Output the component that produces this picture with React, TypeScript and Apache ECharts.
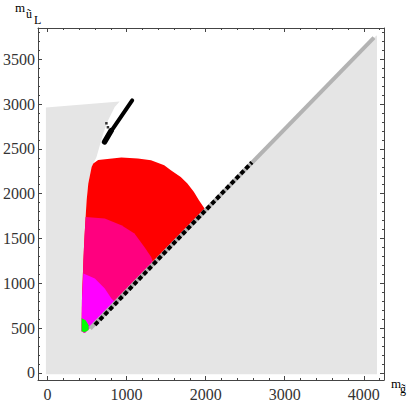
import React, { useEffect, useRef } from "react";
import * as echarts from "echarts";

type P = [number, number];

const xMin = -120;
const xMax = 4255;
const yMin = -80;
const yMax = 3850;

const greyRegion: P[] = [
  [-20, -15], [4166, -15], [4166, 3770], [4130, 3745], [470, 445], [432, 465],
  [436, 811], [454, 1258], [466, 1492], [482, 1741], [495, 1927], [516, 2114],
  [558, 2299], [579, 2337], [620, 2411], [704, 2672], [767, 2820], [850, 2969],
  [912, 3029], [-20, 2962],
];

const redRegion: P[] = [
  [470, 445], [432, 465], [436, 811], [454, 1258], [466, 1492], [482, 1741],
  [495, 1927], [516, 2114], [558, 2299], [579, 2337], [641, 2375], [934, 2404],
  [1143, 2393], [1309, 2374], [1476, 2318], [1560, 2262], [1685, 2187],
  [1769, 2114], [1852, 2020], [1915, 1927], [1990, 1830], [2000, 1808],
];

const pinkRegion: P[] = [
  [470, 445], [432, 465], [436, 811], [454, 1258], [466, 1492], [482, 1741],
  [724, 1723], [934, 1648], [1100, 1556], [1225, 1406], [1309, 1295], [1340, 1225],
];

const magentaRegion: P[] = [
  [470, 445], [432, 465], [436, 811], [454, 1109], [599, 1054], [724, 942],
  [808, 830], [860, 785],
];

const greenRegion: P[] = [
  [432, 609], [482, 586], [520, 530], [520, 477], [470, 454], [432, 465],
];

const greyLine: P[] = [[540, 495], [4128, 3743]];
const blackDots: P[] = [[600, 535], [2584, 2350]];
const arrowUpper: P[] = [[1071, 3043], [760, 2640]];
const arrowLower: P[] = [[805, 2705], [722, 2578]];
const arrowSpecks: P[] = [[745, 2786], [764, 2742]];

const xTickStep = 1000;
const yTickStep = 500;

const axisColor = "#444";
const fontFamily = '"Liberation Serif", "Times New Roman", serif';

function polySeries(pts: P[], color: string, z: number) {
  return {
    type: "custom",
    coordinateSystem: "cartesian2d",
    xAxisIndex: 0,
    yAxisIndex: 0,
    silent: true,
    z,
    data: pts,
    encode: { x: 0, y: 1 },
    renderItem: (params: any, api: any) => {
      if (params.dataIndex !== 0) return null;
      const points = pts.map((p) => api.coord(p));
      return { type: "polygon", shape: { points }, style: { fill: color } };
    },
  };
}

function lineSeries(pts: P[], color: string, width: number, z: number, dash?: number[], cap = "butt") {
  return {
    type: "line",
    data: pts,
    symbol: "none",
    silent: true,
    z,
    lineStyle: { color, width, type: dash ? dash : "solid", cap },
  };
}

export default function App() {
  const ref = useRef<HTMLDivElement>(null);
  useEffect(() => {
    if (!ref.current) return;
    const chart = echarts.init(ref.current, undefined, { renderer: "svg" });
    const xBase = (pos: string, labels: boolean) => ({
      type: "value",
      position: pos,
      min: xMin,
      max: xMax,
      splitNumber: 5,
      axisLine: { show: true, onZero: false, lineStyle: { color: axisColor, width: 1 } },
      axisTick: { show: true, inside: true, length: 4, lineStyle: { color: axisColor } },
      minorTick: { show: true, splitNumber: 5, length: 2, lineStyle: { color: axisColor } },
      splitLine: { show: false },
      axisLabel: {
        show: labels,
        margin: 6,
        fontFamily,
        fontSize: 16,
        color: "#333",
        showMinLabel: false,
        showMaxLabel: false,
        formatter: (v: number) => (v % xTickStep === 0 ? String(v) : ""),
      },
    });
    const yBase = (pos: string, labels: boolean) => ({
      type: "value",
      position: pos,
      min: yMin,
      max: yMax,
      splitNumber: 8,
      axisLine: { show: true, onZero: false, lineStyle: { color: axisColor, width: 1 } },
      axisTick: { show: true, inside: true, length: 4, lineStyle: { color: axisColor } },
      minorTick: { show: true, splitNumber: 5, length: 2, lineStyle: { color: axisColor } },
      splitLine: { show: false },
      axisLabel: {
        show: labels,
        margin: 3,
        fontFamily,
        fontSize: 16,
        color: "#333",
        showMinLabel: false,
        showMaxLabel: false,
        formatter: (v: number) => (v % yTickStep === 0 ? String(v) : ""),
      },
    });
    chart.setOption({
      animation: false,
      backgroundColor: "#fff",
      grid: { left: 36, top: 28, right: 25, bottom: 29, containLabel: false },
      xAxis: [xBase("bottom", true), xBase("top", false)],
      yAxis: [yBase("left", true), yBase("right", false)],
      series: [
        polySeries(greyRegion, "#e5e5e5", 1),
        polySeries(redRegion, "#ff0000", 2),
        polySeries(pinkRegion, "#ff007f", 3),
        polySeries(magentaRegion, "#ff00ff", 4),
        polySeries(greenRegion, "#00ff00", 5),
        lineSeries(greyLine, "#b3b3b3", 4, 6),
        lineSeries(blackDots, "#000", 4, 7, [4.5, 2.5]),
        lineSeries(arrowUpper, "#000", 4, 8, undefined, "round"),
        lineSeries(arrowLower, "#000", 5.5, 8, undefined, "round"),
        {
          type: "scatter",
          data: arrowSpecks,
          symbol: "rect",
          symbolSize: 2.5,
          itemStyle: { color: "#000" },
          silent: true,
          z: 9,
        },
      ],
      graphic: [
        { type: "text", x: 15, y: 7, style: { text: "m", font: `13px ${fontFamily}`, fill: "#000", verticalAlign: "middle" } },
        { type: "text", x: 26, y: 14, style: { text: "\u0169", font: `12px ${fontFamily}`, fill: "#000", verticalAlign: "middle" } },
        { type: "text", x: 34, y: 20, style: { text: "L", font: `12px ${fontFamily}`, fill: "#000", verticalAlign: "middle" } },
        { type: "text", x: 391, y: 383, style: { text: "m", font: `13px ${fontFamily}`, fill: "#000", verticalAlign: "middle" } },
        { type: "text", x: 400, y: 389, style: { text: "g\u0303", font: `12px ${fontFamily}`, fill: "#000", verticalAlign: "middle" } },
      ],
    });
    return () => chart.dispose();
  }, []);
  return (
    <div
      ref={ref}
      style={{ position: "fixed", left: 0, top: 0, width: 409, height: 409, background: "#fff" }}
    />
  );
}
